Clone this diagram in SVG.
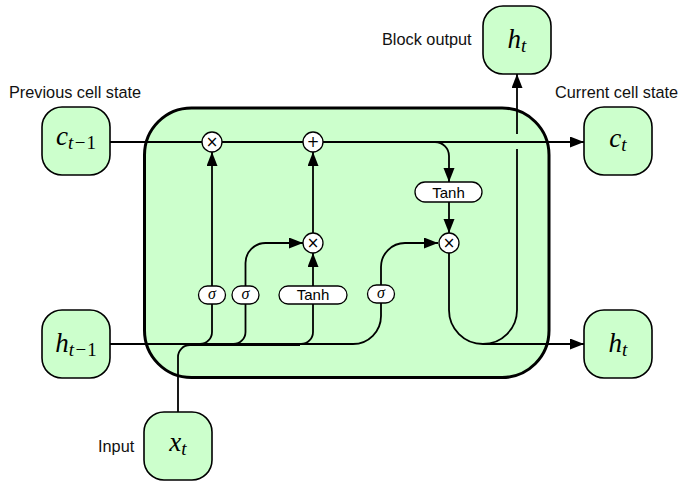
<svg xmlns="http://www.w3.org/2000/svg" width="679" height="483" viewBox="0 0 679 483">
<defs>
<marker id="arr" markerUnits="userSpaceOnUse" markerWidth="15" markerHeight="12" refX="14" refY="5.5" orient="auto">
<path d="M0,0 L14,5.5 L0,11 z" fill="#000"/>
</marker>
<style>
.lbl{font-family:"Liberation Sans",Arial,sans-serif;font-size:16.3px;fill:#111}
.node{fill:#ccffcc;stroke:#000;stroke-width:1.6}
.math{font-family:"Liberation Serif","Times New Roman",serif;font-style:italic;font-size:27px;fill:#000}
.sub{font-size:19px}
.up{font-style:normal}
.pill{fill:#fff;stroke:#000;stroke-width:1.3}
.op{fill:#fff;stroke:#000;stroke-width:1.3}
.tanh{font-family:"Liberation Sans",Arial,sans-serif;font-size:15px;fill:#000}
.sig{font-family:"Liberation Serif","Times New Roman",serif;font-style:italic;font-size:16px;fill:#000}
.sym{font-family:"DejaVu Sans",sans-serif;font-size:15px;fill:#000}
.c{fill:none;stroke:#000;stroke-width:1.8}
</style>
</defs>
<rect width="679" height="483" fill="#fff"/>
<g id="block">
<rect x="144.5" y="108" width="404.5" height="269.5" rx="47" fill="#ccffcc" stroke="#000" stroke-width="3"/>
</g>
<g id="labels">
<text class="lbl" x="9" y="98">Previous cell state</text>
<text class="lbl" x="555" y="98">Current cell state</text>
<text class="lbl" x="382" y="45">Block output</text>
<text class="lbl" x="98" y="452">Input</text>
</g>
<g id="connectors">
<path class="c" d="M110,142 H584" marker-end="url(#arr)"/>
<path class="c" d="M212,286 V152" marker-end="url(#arr)"/>
<path class="c" d="M313,233 V152" marker-end="url(#arr)"/>
<path class="c" d="M313,286 V253" marker-end="url(#arr)"/>
<path class="c" d="M245.5,286 V263 A20,20 0 0 1 265.5,243 H303" marker-end="url(#arr)"/>
<path class="c" d="M381,285 V267 A24,24 0 0 1 405,243 H438" marker-end="url(#arr)"/>
<path class="c" d="M415,142 H435 A14,14 0 0 1 449,156 V182" marker-end="url(#arr)"/>
<path class="c" d="M449,202 V233" marker-end="url(#arr)"/>
<path class="c" d="M449,253 V310 A34,34 0 0 0 483,344 A34,34 0 0 0 517,310 V149"/>
<path class="c" d="M517,134 V74" marker-end="url(#arr)"/>
<path class="c" d="M483,344 H584" marker-end="url(#arr)"/>
<path class="c" d="M110,344 H353 A28,28 0 0 0 381,316 V303"/>
<path class="c" d="M200,344 A12,12 0 0 0 212,332 V304"/>
<path class="c" d="M233.5,344 A12,12 0 0 0 245.5,332 V304"/>
<path class="c" d="M301,344 A12,12 0 0 0 313,332 V304"/>
<path class="c" d="M178,412 V357 A12,12 0 0 1 190,345 H300"/>
</g>
<g id="c_prev">
<rect class="node" x="42" y="107" width="68" height="68" rx="20"/>
<text class="math" x="76" y="145" text-anchor="middle">c<tspan class="sub" dy="4">t</tspan><tspan class="sub up" dx="1.5">−</tspan><tspan class="sub up" dx="1">1</tspan></text>
</g>
<g id="h_prev">
<rect class="node" x="42" y="310" width="68" height="68" rx="20"/>
<text class="math" x="76" y="352" text-anchor="middle">h<tspan class="sub" dy="4">t</tspan><tspan class="sub up" dx="1.5">−</tspan><tspan class="sub up" dx="1">1</tspan></text>
</g>
<g id="x_t">
<rect class="node" x="144" y="412" width="68" height="68" rx="20"/>
<text class="math" x="178" y="451" text-anchor="middle">x<tspan class="sub" dy="4">t</tspan></text>
</g>
<g id="h_out">
<rect class="node" x="483" y="6" width="68" height="68" rx="20"/>
<text class="math" x="517" y="48" text-anchor="middle">h<tspan class="sub" dy="4">t</tspan></text>
</g>
<g id="c_t">
<rect class="node" x="584" y="107" width="68" height="68" rx="20"/>
<text class="math" x="618" y="147" text-anchor="middle">c<tspan class="sub" dy="4">t</tspan></text>
</g>
<g id="h_t">
<rect class="node" x="584" y="310" width="68" height="68" rx="20"/>
<text class="math" x="618" y="352" text-anchor="middle">h<tspan class="sub" dy="4">t</tspan></text>
</g>
<g id="mul_forget">
<circle class="op" cx="212" cy="142" r="10"/>
<text class="sym" x="212" y="147" text-anchor="middle">×</text>
</g>
<g id="add_cell">
<circle class="op" cx="313" cy="142" r="10"/>
<text class="sym" x="313" y="146.5" text-anchor="middle" font-size="13">+</text>
</g>
<g id="mul_input">
<circle class="op" cx="313" cy="243" r="10"/>
<text class="sym" x="313" y="248" text-anchor="middle">×</text>
</g>
<g id="mul_output">
<circle class="op" cx="449" cy="243" r="10"/>
<text class="sym" x="449" y="248" text-anchor="middle">×</text>
</g>
<g id="sigma_forget">
<rect class="pill" x="198.5" y="286" width="27" height="18" rx="9"/>
<text class="sig" x="212" y="299" text-anchor="middle">σ</text>
</g>
<g id="sigma_input">
<rect class="pill" x="232" y="286" width="27" height="18" rx="9"/>
<text class="sig" x="245.5" y="299" text-anchor="middle">σ</text>
</g>
<g id="tanh_input">
<rect class="pill" x="279" y="286" width="68" height="18" rx="9"/>
<text class="tanh" x="313" y="300" text-anchor="middle">Tanh</text>
</g>
<g id="sigma_output">
<rect class="pill" x="367.5" y="285" width="27" height="18" rx="9"/>
<text class="sig" x="381" y="298" text-anchor="middle">σ</text>
</g>
<g id="tanh_cell">
<rect class="pill" x="415" y="182" width="67" height="20" rx="10"/>
<text class="tanh" x="448.5" y="197.5" text-anchor="middle">Tanh</text>
</g>
</svg>
